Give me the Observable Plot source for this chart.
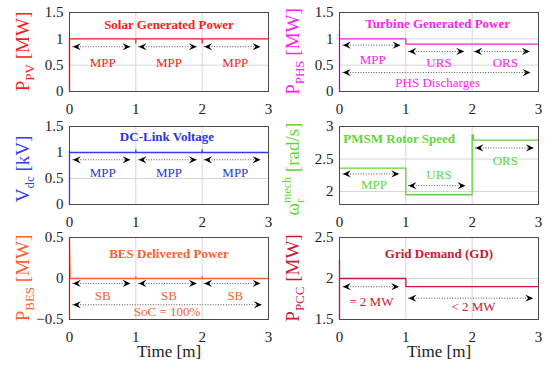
<!DOCTYPE html>
<html><head><meta charset="utf-8">
<script src="https://cdn.jsdelivr.net/npm/d3@7"></script>
<script src="https://cdn.jsdelivr.net/npm/@observablehq/plot@0.6"></script>
<style>
html,body{margin:0;padding:0;background:#fff;}
#chart{position:relative;width:550px;height:365px;background:#fff;overflow:hidden;}
#chart svg{position:absolute;overflow:visible;}
#chart svg text{font-family:"Liberation Serif",serif;}
</style></head><body><div id="chart"></div>
<script>
// ---------- data ----------
const xTicks = [0, 1, 2, 3];

// Solar generated power
const pvTime  = [0, 0, 1, 1, 1, 2, 2, 2, 3];
const pvPower = [0, 1, 1, 0.92, 1, 1, 0.92, 1, 1];
const pvTicks = [0, 0.5, 1, 1.5];
const pvTickLabels = ["0", "0.5", "1", "1.5"];
const pvArrows = [{x1: 0.05, x2: 0.92, y: 0.85}, {x1: 1.04, x2: 1.92, y: 0.85}, {x1: 2.03, x2: 2.88, y: 0.85}];
const pvLabels = [{x: 0.5, y: 0.55, text: "MPP"}, {x: 1.5, y: 0.55, text: "MPP"}, {x: 2.5, y: 0.55, text: "MPP"}];

// Turbine generated power
const phsTime  = [0, 0, 0, 1, 1, 3];
const phsPower = [0, 1.16, 1, 1, 0.9, 0.9];
const phsTicks = [0, 0.5, 1, 1.5];
const phsTickLabels = ["0", "0.5", "1", "1.5"];
const phsArrows = [{x1: 0.05, x2: 0.92, y: 0.88}, {x1: 1.04, x2: 1.88, y: 0.76}, {x1: 2.03, x2: 2.87, y: 0.76}, {x1: 0.05, x2: 2.88, y: 0.36}];
const phsLabels = [{x: 0.5, y: 0.6, text: "MPP"}, {x: 1.5, y: 0.55, text: "URS"}, {x: 2.5, y: 0.55, text: "ORS"}, {x: 1.48, y: 0.17, text: "PHS Discharges"}];

// DC-link voltage
const vdcTime    = [0, 0, 0, 1, 1, 1, 2, 2, 2, 3];
const vdcVoltage = [0, 1.05, 1, 1, 1.05, 1, 1, 1.05, 1, 1];
const vdcTicks = [0, 0.5, 1, 1.5];
const vdcTickLabels = ["0", "0.5", "1", "1.5"];
const vdcArrows = [{x1: 0.05, x2: 0.92, y: 0.86}, {x1: 1.04, x2: 1.92, y: 0.86}, {x1: 2.03, x2: 2.88, y: 0.86}];
const vdcLabels = [{x: 0.5, y: 0.6, text: "MPP"}, {x: 1.5, y: 0.6, text: "MPP"}, {x: 2.5, y: 0.6, text: "MPP"}];

// PMSM rotor speed
const rotorTime  = [0, 1, 1, 2, 2, 2.02, 2.02, 3];
const rotorSpeed = [2.36, 2.36, 1.95, 1.95, 2.87, 2.87, 2.79, 2.79];
const rotorTicks = [2, 2.5, 3];
const rotorTickLabels = ["2", "2.5", "3"];
const rotorArrows = [{x1: 0.05, x2: 0.9, y: 2.27}, {x1: 1.04, x2: 1.9, y: 2.09}, {x1: 2.05, x2: 2.93, y: 2.67}];
const rotorLabels = [{x: 0.52, y: 2.1, text: "MPP"}, {x: 1.5, y: 2.26, text: "URS"}, {x: 2.5, y: 2.47, text: "ORS"}];

// BES delivered power
const besTime  = [0, 0, 0.01, 1, 1, 1, 2, 2, 2, 3];
const besPower = [-0.5, 0.5, 0, 0, 0.025, 0, 0, 0.025, 0, 0];
const besTicks = [-0.5, 0, 0.5];
const besTickLabels = ["\u22120.5", "0", "0.5"];
const besArrows = [{x1: 0.05, x2: 0.92, y: -0.06}, {x1: 1.04, x2: 1.92, y: -0.06}, {x1: 2.03, x2: 2.88, y: -0.06}, {x1: 0.05, x2: 2.9, y: -0.32}];
const besLabels = [{x: 0.5, y: -0.215, text: "SB"}, {x: 1.5, y: -0.215, text: "SB"}, {x: 2.5, y: -0.215, text: "SB"}, {x: 1.47, y: -0.405, text: "SoC = 100%"}];

// Grid demand
const gdTime  = [0, 0, 0, 1, 1, 3];
const gdPower = [1.5, 2.23, 2, 2, 1.9, 1.9];
const gdTicks = [1.5, 2, 2.5];
const gdTickLabels = ["1.5", "2", "2.5"];
const gdArrows = [{x1: 0.05, x2: 0.9, y: 1.9}, {x1: 1.04, x2: 2.92, y: 1.76}];
const gdLabels = [{x: 0.48, y: 1.71, text: "= 2 MW"}, {x: 2.02, y: 1.66, text: "< 2 MW"}];

const panelTitles = ["Solar Generated Power", "Turbine Generated Power", "DC-Link Voltage", "PMSM Rotor Speed", "BES Delivered Power", "Grid Demand (GD)"];
const xLabel = "Time [m]";

// ---------- drawing ----------
const FONT = "Liberation Serif";

const leftHead = {draw(ctx) { ctx.moveTo(0, 0); ctx.lineTo(8, -3.6); ctx.lineTo(5, 0); ctx.lineTo(8, 3.6); ctx.closePath(); }};
const rightHead = {draw(ctx) { ctx.moveTo(0, 0); ctx.lineTo(-8, -3.6); ctx.lineTo(-5, 0); ctx.lineTo(-8, 3.6); ctx.closePath(); }};

const rows = [
  {top: 0, height: 115, mt: 12, mb: 24},
  {top: 115, height: 115, mt: 11, mb: 26},
  {top: 230, height: 135, mt: 7, mb: 46}
];
const cols = [
  {left: 0, width: 270, ml: 69, mr: 2},
  {left: 270, width: 280, ml: 69, mr: 12}
];

const panels = [
  {time: pvTime, value: pvPower, domain: [0, 1.5], ticks: pvTicks, tickLabels: pvTickLabels, arrows: pvArrows, labels: pvLabels,
   title: panelTitles[0], tx: 1.5, ty: 1.27, color: "#ff1a1a", text: "#ff1a1a", row: 0, col: 0, lab: "pv", lcy: 0},
  {time: phsTime, value: phsPower, domain: [0, 1.5], ticks: phsTicks, tickLabels: phsTickLabels, arrows: phsArrows, labels: phsLabels,
   title: panelTitles[1], tx: 1.48, ty: 1.28, color: "#ff22ee", text: "#ff22ee", row: 0, col: 1, lab: "phs", lcy: 0},
  {time: vdcTime, value: vdcVoltage, domain: [0, 1.5], ticks: vdcTicks, tickLabels: vdcTickLabels, arrows: vdcArrows, labels: vdcLabels,
   title: panelTitles[2], tx: 1.47, ty: 1.3, color: "#2d3cff", text: "#2a35e0", row: 1, col: 0, lab: "vdc", lcy: 4},
  {time: rotorTime, value: rotorSpeed, domain: [1.8, 3], ticks: rotorTicks, tickLabels: rotorTickLabels, arrows: rotorArrows, labels: rotorLabels,
   title: panelTitles[3], tx: 0.9, ty: 2.81, color: "#5fd63a", text: "#5fd63a", row: 1, col: 1, lab: "rotor", lcy: 4},
  {time: besTime, value: besPower, domain: [-0.5, 0.5], ticks: besTicks, tickLabels: besTickLabels, arrows: besArrows, labels: besLabels,
   title: panelTitles[4], tx: 1.5, ty: 0.3, color: "#ff5e2e", text: "#ff5e2e", row: 2, col: 0, lab: "bes", lcy: 0, xlab: true},
  {time: gdTime, value: gdPower, domain: [1.5, 2.5], ticks: gdTicks, tickLabels: gdTickLabels, arrows: gdArrows, labels: gdLabels,
   title: panelTitles[5], tx: 1.5, ty: 2.3, color: "#cc1836", text: "#cc1836", row: 2, col: 1, lab: "gd", lcy: 0, xlab: true}
];

const ylabelParts = {
  pv:    [{t: "P"}, {t: "PV", s: 13, dy: 5}, {t: " [MW]", dy: -5}],
  phs:   [{t: "P"}, {t: "PHS", s: 13, dy: 5}, {t: " [MW]", dy: -5}],
  vdc:   [{t: "V"}, {t: "dc", s: 13, dy: 5}, {t: " [kV]", dy: -5}],
  rotor: [{t: "\u03c9"}, {t: "r", s: 12, dy: 5}, {t: "mech", s: 12, dx: -4, dy: -13}, {t: " [rad/s]", dy: 8}],
  bes:   [{t: "P"}, {t: "BES", s: 13, dy: 5}, {t: " [MW]", dy: -5}],
  gd:    [{t: "P"}, {t: "PCC", s: 13, dy: 5}, {t: " [MW]", dy: -5}]
};

const chart = document.getElementById("chart");

for (const p of panels) {
  const r = rows[p.row], c = cols[p.col];
  const series = p.time.map((t, i) => ({t, v: p.value[i]}));
  const marks = [
    Plot.gridX(xTicks, {stroke: "#d6d6d6", strokeOpacity: 1}),
    Plot.gridY(p.ticks, {stroke: "#d6d6d6", strokeOpacity: 1}),
    Plot.axisX(xTicks, {tickSize: 0, tickPadding: 12, fontSize: 15, fontFamily: FONT, fill: "#222", label: null}),
    Plot.axisY(p.ticks, {tickSize: 0, tickPadding: 6, fontSize: 15, fontFamily: FONT, fill: "#222", label: null,
      tickFormat: (d) => p.tickLabels[p.ticks.indexOf(d)]}),
    Plot.line(series, {x: "t", y: "v", stroke: p.color, strokeWidth: 1.3}),
    Plot.ruleY(p.arrows, {x1: "x1", x2: "x2", y: "y", stroke: "#555", strokeWidth: 1, strokeDasharray: "1,1.6"}),
    Plot.dot(p.arrows, {x: "x1", y: "y", symbol: leftHead, fill: "#000", stroke: "none"}),
    Plot.dot(p.arrows, {x: "x2", y: "y", symbol: rightHead, fill: "#000", stroke: "none"}),
    Plot.text(p.labels, {x: "x", y: "y", text: "text", fill: p.text, fontSize: 13, fontFamily: FONT}),
    Plot.text([p.title], {x: p.tx, y: p.ty, text: (d) => d, fill: p.text, fontSize: 13, fontWeight: "bold", fontFamily: FONT}),
    Plot.frame({stroke: "#4a4a4a", strokeWidth: 1})
  ];
  if (p.xlab) marks.push(Plot.text([xLabel], {frameAnchor: "bottom", dy: 37, text: (d) => d, fill: "#222", fontSize: 17, fontFamily: FONT}));
  const svg = Plot.plot({
    width: c.width, height: r.height,
    marginLeft: c.ml, marginRight: c.mr, marginTop: r.mt, marginBottom: r.mb,
    x: {domain: [0, 3]},
    y: {domain: p.domain},
    style: {fontFamily: FONT, fontSize: "15px", background: "transparent", overflow: "visible"},
    marks
  });
  svg.style.left = c.left + "px";
  svg.style.top = r.top + "px";
  // rotated y-axis label with sub/superscripts
  const cy = r.mt + (r.height - r.mt - r.mb) / 2 + p.lcy;
  const t = d3.select(svg).append("text")
    .attr("transform", `translate(28.5,${cy}) rotate(-90)`)
    .attr("text-anchor", "middle")
    .attr("fill", p.color)
    .style("font-family", FONT).style("font-size", "19px");
  for (const part of ylabelParts[p.lab]) {
    const ts = t.append("tspan").text(part.t);
    if (part.s) ts.style("font-size", part.s + "px");
    if (part.dy) ts.attr("dy", part.dy);
    if (part.dx) ts.attr("dx", part.dx);
  }
  chart.appendChild(svg);
}
</script></body></html>
